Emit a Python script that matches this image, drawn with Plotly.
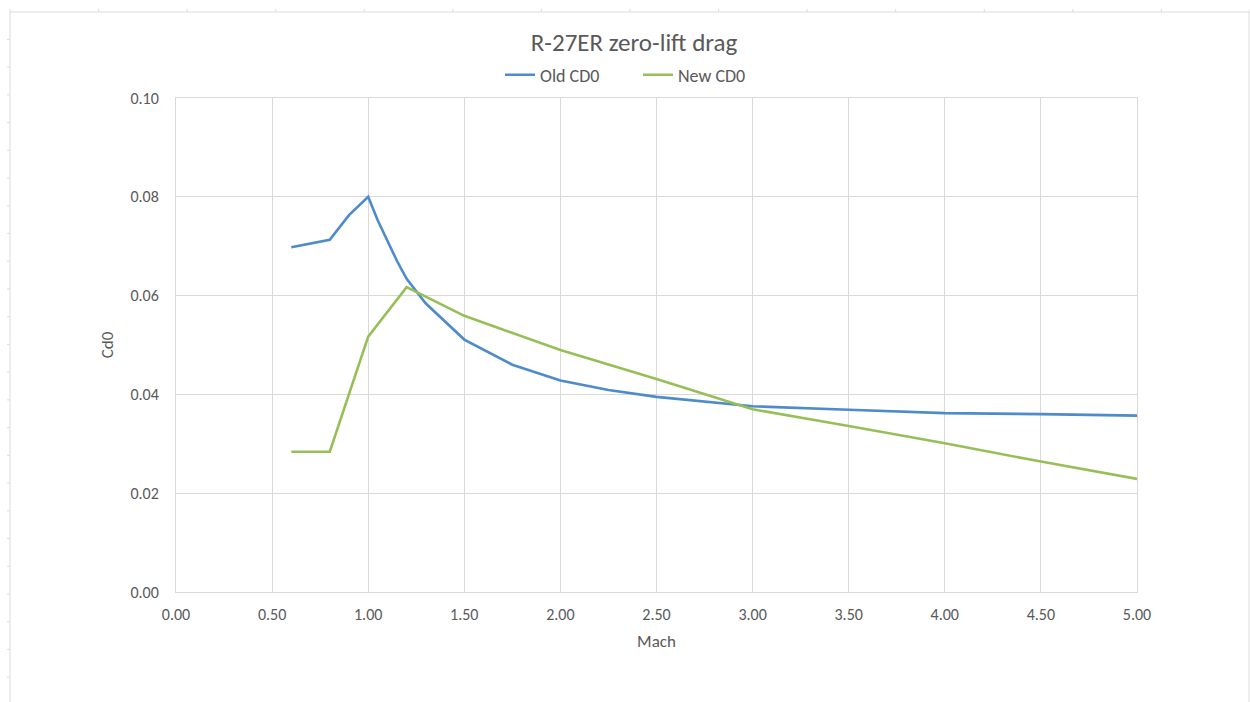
import plotly.graph_objects as go

# ---- data ----
mach_old = [0.6, 0.8, 0.9, 1.0, 1.05, 1.1, 1.15, 1.2, 1.3, 1.5, 1.75, 2.0, 2.25, 2.5, 3.0, 3.5, 4.0, 4.5, 5.0]
cd0_old = [0.0698, 0.0713, 0.0763, 0.0800, 0.0752, 0.0710, 0.0670, 0.0634, 0.0584, 0.0511, 0.0460, 0.0428, 0.0409, 0.0395, 0.0376, 0.0369, 0.0362, 0.0360, 0.0357]

mach_new = [0.6, 0.8, 1.0, 1.2, 1.5, 2.0, 2.5, 3.0, 3.5, 4.0, 4.5, 5.0]
cd0_new = [0.0284, 0.0284, 0.0517, 0.0617, 0.0559, 0.0490, 0.0431, 0.0370, 0.0336, 0.0301, 0.0264, 0.0229]

x_ticks = [0, 0.5, 1.0, 1.5, 2.0, 2.5, 3.0, 3.5, 4.0, 4.5, 5.0]
y_ticks = [0.0, 0.02, 0.04, 0.06, 0.08, 0.10]

W, H = 1250, 702
L, R, T, B = 176, 1137, 98, 592
FONT = "Calibri, Carlito, Lato, sans-serif"
TXT = "#595959"
GRID = "#d9d9d9"

fig = go.Figure()
fig.add_trace(go.Scatter(x=mach_old, y=cd0_old, mode="lines", name="Old CD0",
                         line=dict(color="#4d8bcb", width=2.6)))
fig.add_trace(go.Scatter(x=mach_new, y=cd0_new, mode="lines", name="New CD0",
                         line=dict(color="#97bf58", width=2.6)))

def px2x(px):
    return (px - L) / (R - L)

def py2y(py):
    return (B - py) / (B - T)

shapes = []
frame = "#dcdcdc"
# spreadsheet-like frame
shapes.append(dict(type="line", xref="paper", yref="paper", x0=px2x(10), x1=px2x(10), y0=py2y(12), y1=py2y(702), line=dict(color=frame, width=1)))
shapes.append(dict(type="line", xref="paper", yref="paper", x0=px2x(10), x1=px2x(1250), y0=py2y(12), y1=py2y(12), line=dict(color=frame, width=1)))
shapes.append(dict(type="line", xref="paper", yref="paper", x0=px2x(1249), x1=px2x(1249), y0=py2y(12), y1=py2y(702), line=dict(color=frame, width=1)))
k = 0
while 39.4 + 27.73 * k < 702:
    yy = 39.4 + 27.73 * k
    shapes.append(dict(type="line", xref="paper", yref="paper", x0=px2x(7), x1=px2x(10), y0=py2y(yy), y1=py2y(yy), line=dict(color=frame, width=1)))
    k += 1
k = 0
while 10 + 88.57 * k < 1250:
    xx = 10 + 88.57 * k
    shapes.append(dict(type="line", xref="paper", yref="paper", x0=px2x(xx), x1=px2x(xx), y0=py2y(9), y1=py2y(12), line=dict(color=frame, width=1)))
    k += 1

fig.update_layout(
    width=W, height=H,
    margin=dict(l=L, r=W - R, t=T, b=H - B),
    paper_bgcolor="white", plot_bgcolor="white",
    font=dict(family=FONT, color=TXT, size=16),
    title=dict(text="R-27ER zero-lift drag", x=634 / W, xanchor="center",
               y=1 - 42 / H, yanchor="middle", xref="container", yref="container",
               font=dict(size=25, color=TXT, family=FONT)),
    legend=dict(orientation="h", x=px2x(638), xanchor="center", y=1 + (T - 75) / (B - T), yanchor="middle",
                font=dict(size=18, color=TXT, family=FONT), bgcolor="rgba(0,0,0,0)",
                entrywidth=93, entrywidthmode="pixels"),
    xaxis=dict(range=[0, 5], tickvals=x_ticks, tickformat=".2f", showgrid=True, gridcolor=GRID, gridwidth=1,
               zeroline=False, showline=True, linecolor=GRID, linewidth=1, mirror=True,
               ticks="", ticklabelstandoff=8, tickfont=dict(size=16, color=TXT),
               title=dict(text="Mach", font=dict(size=17, color=TXT), standoff=11)),
    yaxis=dict(range=[0, 0.1], tickvals=y_ticks, tickformat=".2f", showgrid=True, gridcolor=GRID, gridwidth=1,
               zeroline=False, showline=True, linecolor=GRID, linewidth=1, mirror=True,
               ticks="", ticklabelstandoff=13, tickfont=dict(size=16, color=TXT),
               title=dict(text="Cd0", font=dict(size=17, color=TXT), standoff=12)),
    shapes=shapes,
)

fig.write_html("out.html")
